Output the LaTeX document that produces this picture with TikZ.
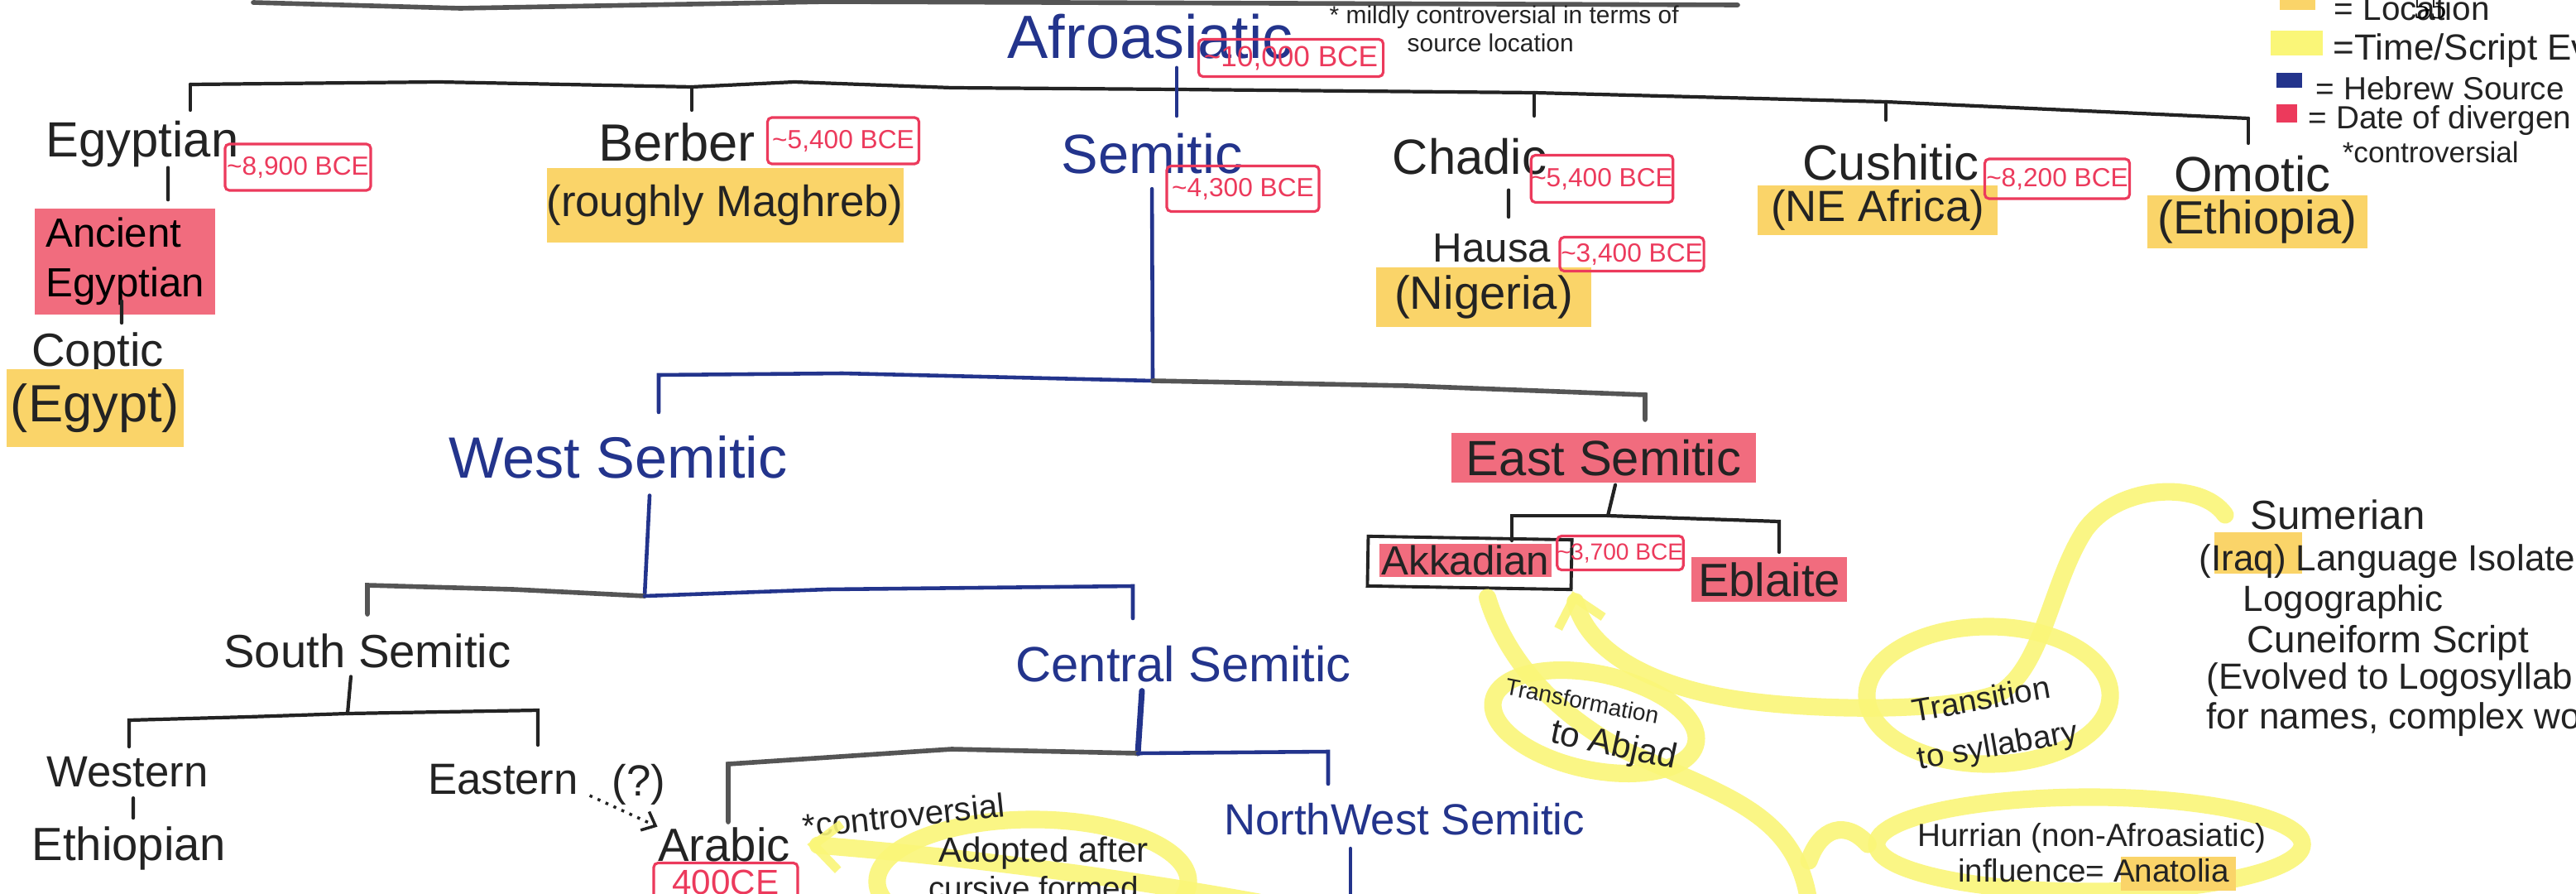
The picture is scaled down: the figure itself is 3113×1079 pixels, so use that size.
\documentclass[tikz,border=0pt]{standalone}
\usepackage{fontspec}
\setmainfont{Liberation Sans}
\newfontfamily\pagefont{Liberation Serif}
\usetikzlibrary{positioning}
\usetikzlibrary{shapes.geometric}
\usetikzlibrary{arrows.meta}
\definecolor{inkblue}{RGB}{35,52,140}
\definecolor{inkblack}{RGB}{35,35,35}
\definecolor{pencil}{RGB}{85,85,85}
\definecolor{inkred}{RGB}{236,58,92}
\definecolor{hlred}{RGB}{241,108,126}
\definecolor{hlorange}{RGB}{250,212,105}
\definecolor{hlyellow}{RGB}{250,246,120}
\tikzset{
    hand/.style={inner sep=0pt, text=inkblack, font=\fontsize{#1}{#1}\selectfont},
    blueink/.style={text=inkblue},
    datebox/.style={draw=inkred, text=inkred, line width=0.9pt, rounded corners=1.5pt,
        inner sep=0pt, minimum width=1.78cm, minimum height=0.5cm, font=\fontsize{9}{9}\selectfont},
    redmark/.style={fill=hlred, inner sep=0pt},
    placemark/.style={fill=hlorange, inner sep=0pt},
    swatch/.style={inner sep=0pt},
    bar/.style={draw=inkblack, line width=1.2pt, line cap=round},
    pencilbar/.style={draw=pencil, line width=1.6pt, line cap=round},
    bluebar/.style={draw=inkblue, line width=1.3pt, line cap=round},
    marker/.style={draw=hlyellow, line width=6pt, line cap=round, opacity=0.9},
    markloop/.style={ellipse, draw=hlyellow, line width=6pt, inner sep=0pt, opacity=0.9},
}
\tikzset{markertip/.style={-{Straight Barb[length=9pt, width=16pt, line width=3pt]}}}

\begin{document}
\begin{tikzpicture}[x=0.01cm, y=-0.01cm]
    \fill[white] (0,0) rectangle (3113,1079);
    \useasboundingbox (0,0) rectangle (3113,1079);
    \clip (0,0) rectangle (3113,1079);

    % yellow marker loops and strokes
    \node[markloop, minimum width=3.76cm, minimum height=1.5cm] (adoptloop) at (1248,1065) {};
    \node[markloop, minimum width=2.5cm, minimum height=1.16cm, rotate=-12] (abjadloop) at (1927,872) {};
    \node[markloop, minimum width=2.94cm, minimum height=1.66cm] (sylloop) at (2403,840) {};
    \node[markloop, minimum width=5.14cm, minimum height=1.14cm] (hurrloop) at (2525,1020) {};
    \coordinate (adoptsrc) at (1521,1090);
    \coordinate (abjadend) at (2186,1090);

    % top line
    \draw[pencilbar] (306,3) -- (556,10) -- (1000,2) -- (2100,6);

    % Afroasiatic
    \node[hand=21, blueink] (afro) at (1390,44) {Afroasiatic};
    \node[hand=8.5, anchor=west] (afronote) at (1606,21) {* mildly controversial in terms of};
    \node[hand=8.5, anchor=west] (afronote2) at (1700,52) {source location};
    \node[datebox, minimum width=2.23cm, minimum height=0.45cm, font=\fontsize{10}{10}\selectfont] (afrodate) at (1560,70) {\textasciitilde10,000 BCE};

    \coordinate (j-egy) at (230,102);
    \coordinate (j-ber) at (836,105);
    \coordinate (j-sem) at (1422,108);
    \coordinate (j-cha) at (1854,112);
    \coordinate (j-cus) at (2279,123);
    \coordinate (j-omo) at (2717,143);
    \draw[bar] (j-egy) -- (530,99) -- (j-ber) -- (960,99) -- (1150,106) -- (j-sem) -- (j-cha) -- (j-cus) -- (j-omo);
    \draw[bar] (j-egy) -- ++(0,31);
    \draw[bar] (j-ber) -- ++(0,28);
    \draw[bar] (j-cha) -- ++(0,28);
    \draw[bar] (j-cus) -- ++(0,22);
    \draw[bar] (j-omo) -- ++(0,30);
    \draw[bluebar] ([yshift=-0.1cm]afro.south -| j-sem) -- (j-sem) -- ++(0,32);

    % Egyptian
    \node[hand=17] (egy) at (172,174) {Egyptian};
    \node[datebox, minimum width=1.76cm, minimum height=0.56cm] (egydate) at (360,202) {\textasciitilde8,900 BCE};
    \node[redmark, align=left, minimum width=2.18cm, minimum height=1.28cm, font=\fontsize{14}{17}\selectfont] (ancient) at (151,316) {Ancient\\Egyptian};
    \draw[bar, shorten >=0.1cm] ([xshift=0.31cm]egy.south) -- ([xshift=0.52cm]ancient.north);
    \node[hand=16] (coptic) at (118,428) {Coptic};
    \draw[bar] ([xshift=-0.04cm, yshift=0.17cm]ancient.south) -- ([xshift=0.29cm, yshift=0.11cm]coptic.north);
    \node[placemark, hand=18, minimum width=2.14cm, minimum height=0.93cm] (egypt) at (115,493) {(Egypt)};

    % Berber
    \node[hand=18] (berber) at (818,172) {Berber};
    \node[datebox, minimum width=1.83cm, minimum height=0.56cm] (berdate) at (1019,170) {\textasciitilde5,400 BCE};
    \node[placemark, hand=15, minimum width=4.28cm, minimum height=0.9cm] (maghreb) at (876,248) {(roughly Maghreb)};

    % Semitic
    \node[hand=19, blueink] (semitic) at (1392,186) {Semitic};
    \node[datebox, minimum width=1.84cm, minimum height=0.55cm] (semdate) at (1502,228) {\textasciitilde4,300 BCE};

    % Chadic
    \node[hand=17] (chadic) at (1776,189) {Chadic};
    \node[datebox, minimum width=1.7cm, minimum height=0.57cm] (chadate) at (1936,216) {\textasciitilde5,400 BCE};
    \node[hand=14] (hausa) at (1803,300) {Hausa};
    \draw[bar, shorten <=0.18cm, shorten >=0.2cm] ([xshift=0.47cm]chadic.south) -- ([xshift=0.2cm]hausa.north);
    \node[placemark, hand=16, minimum width=2.59cm, minimum height=0.71cm] (nigeria) at (1793,359) {(Nigeria)};
    \node[datebox, minimum width=1.74cm, minimum height=0.41cm] (hausadate) at (1972,307) {\textasciitilde3,400 BCE};

    % Cushitic
    \node[hand=17] (cushitic) at (2285,196) {Cushitic};
    \node[placemark, hand=15, minimum width=2.9cm, minimum height=0.6cm] (neafrica) at (2269,254) {(NE Africa)};
    \node[datebox, minimum width=1.75cm, minimum height=0.48cm] (cushdate) at (2486,216) {\textasciitilde8,200 BCE};

    % Omotic
    \node[hand=17] (omotic) at (2722,210) {Omotic};
    \node[placemark, hand=16, minimum width=2.65cm, minimum height=0.64cm] (ethiopia) at (2728,268) {(Ethiopia)};
    \node[hand=10, anchor=west] (omonote) at (2830,184) {*controversial};

    % legend
    \node[swatch, fill=hlorange, minimum width=0.43cm, minimum height=0.17cm] (swloc) at (2776,3) {};
    \node[hand=11.5, right=0.22cm of swloc, yshift=-0.07cm] (legloc) {= Location};
    \node[font=\pagefont\fontsize{11}{11}\selectfont, inner sep=0pt] (pagenum) at (2937,10) {55};
    \node[swatch, fill=hlyellow, minimum width=0.63cm, minimum height=0.29cm] (swtime) at (2775,52) {};
    \node[hand=12.5, right=0.12cm of swtime, yshift=-0.09cm] (legtime) {=Time/Script Ev};
    \node[swatch, fill=inkblue, minimum width=0.31cm, minimum height=0.17cm] (swheb) at (2766,97) {};
    \node[hand=11, right=0.16cm of swheb, yshift=-0.1cm] (legheb) {= Hebrew Source};
    \node[swatch, fill=inkred, minimum width=0.25cm, minimum height=0.22cm] (swdate) at (2763,137) {};
    \node[hand=11, right=0.13cm of swdate, yshift=-0.08cm] (legdate) {= Date of divergen};

    % Semitic split
    \coordinate (j-semi) at (1393,460);
    \coordinate (j-west) at (796,453);
    \coordinate (j-east) at (1988,477);
    \draw[bluebar, shorten <=0.17cm] (semitic.south) -- (j-semi);
    \draw[bluebar] (j-semi) -- (1018,451) -- (j-west) -- ++(0,45);
    \draw[pencilbar] (j-semi) -- (1700,466) -- (j-east) -- ++(0,30);

    \node[hand=20, blueink] (westsem) at (747,552) {West Semitic};
    \node[redmark, hand=17, minimum width=3.67cm, minimum height=0.6cm] (eastsem) at (1938,553) {East Semitic};

    % West Semitic split
    \coordinate (j-ws) at (779,720);
    \draw[bluebar] ([xshift=0.38cm, yshift=-0.2cm]westsem.south) -- (j-ws);
    \draw[pencilbar] (j-ws) -- (620,712) -- (444,707) -- ++(0,35);
    \draw[bluebar] (j-ws) -- (1000,712) -- (1369,708) -- ++(0,39);

    \node[hand=16] (southsem) at (444,786) {South Semitic};
    \node[hand=17, blueink] (centralsem) at (1430,802) {Central Semitic};

    % South Semitic
    \coordinate (j-ss) at (420,862);
    \draw[bar] ([xshift=-0.2cm, yshift=-0.1cm]southsem.south) -- (j-ss);
    \draw[bar] (j-ss) -- (300,866) -- (156,870) -- ++(0,32);
    \draw[bar] (j-ss) -- (650,858) -- ++(0,42);
    \node[hand=15] (western) at (154,933) {Western};
    \node[hand=16] (ethiopian) at (156,1025) {Ethiopian};
    \draw[bar] ([xshift=0.07cm, yshift=-0.12cm]western.south) -- ([xshift=0.05cm, yshift=0.1cm]ethiopian.north);
    \node[hand=15] (eastern) at (608,942) {Eastern};
    \node[hand=15] (query) at (772,948) {(?)};

    % Central Semitic
    \coordinate (j-cs) at (1375,910);
    \draw[bluebar, line width=2pt] ([xshift=-0.5cm, yshift=-0.1cm]centralsem.south) -- (j-cs);
    \draw[pencilbar] (j-cs) -- (1150,905) -- (880,923) -- ++(0,70);
    \draw[bluebar] (j-cs) -- (1605,908) -- ++(0,39);

    \node[hand=16] (arabic) at (875,1020) {Arabic};
    \draw[inkblack, dotted, line width=1pt, -{Straight Barb[length=4pt, width=7pt]}] ([xshift=0.13cm]eastern.south east) -- (arabic.north west);
    \node[hand=11.5, rotate=6] (arabnote) at (1092,985) {*controversial};
    \node[datebox, minimum width=1.74cm, minimum height=0.47cm, font=\fontsize{12}{12}\selectfont] (arabdate) at (877,1066) {400CE};
    \node[hand=15, blueink] (nwsem) at (1697,990) {NorthWest Semitic};
    \draw[bluebar] ([xshift=-0.65cm, yshift=-0.15cm]nwsem.south) -- ++(0,70);

    % East Semitic
    \coordinate (j-es) at (1943,623);
    \draw[bar] ([xshift=0.14cm, yshift=-0.02cm]eastsem.south) -- (j-es);
    \draw[bar] (j-es) -- (1827,623) -- ++(0,30);
    \draw[bar] (j-es) -- (2150,630) -- ++(0,37);
    \node[redmark, hand=14, minimum width=2.07cm, minimum height=0.4cm] (akkadian) at (1771,677) {Akkadian};
    \node[draw=inkblack, line width=1.1pt, minimum width=2.46cm, minimum height=0.6cm, inner sep=0pt, rotate=-1] (akkbox) at (1776,680) {};
    \node[datebox, minimum width=1.49cm, minimum height=0.41cm, font=\fontsize{8}{8}\selectfont] (akkdate) at (1958,668) {\textasciitilde3,700 BCE};
    \node[redmark, hand=16, minimum width=1.88cm, minimum height=0.54cm] (eblaite) at (2138,700) {Eblaite};

    % Sumerian
    \node[hand=14, anchor=west] (sumerian) at (2719,622) {Sumerian};
    \node[placemark, minimum width=1.06cm, minimum height=0.5cm] (iraqmark) at (2729,668) {};
    \node[hand=12.5, anchor=west] (isolate) at (2657,678) {(Iraq) Language Isolate,};
    \node[hand=12.5, anchor=west] (logo) at (2710,727) {Logographic};
    \node[hand=13, anchor=west] (cuneiform) at (2715,777) {Cuneiform Script};
    \node[hand=12.5, anchor=west] (evolved) at (2666,821) {(Evolved to Logosyllab};
    \node[hand=12.5, anchor=west] (complex) at (2666,869) {for names, complex word};

    % marker strokes
    \draw[marker, markertip] ([xshift=-0.3cm]sumerian.west) .. controls (2660,580) and (2560,585) .. (2520,640)
        .. controls (2480,700) and (2470,800) .. (2420,835)
        .. controls (2370,860) and (2200,860) .. (2100,845)
        .. controls (2000,830) and (1920,790) .. (akkbox.south east);
    \draw[marker] ([xshift=0.22cm, yshift=-0.1cm]akkbox.south) .. controls (1815,780) and (1860,850) .. (1960,905)
        .. controls (2080,960) and (2170,980) .. (abjadend);
    \draw[marker] (hurrloop.west) .. controls (2230,990) and (2200,1000) .. (2186,1040);
    \draw[marker, markertip] (adoptsrc) .. controls (1300,1050) and (1100,1030) .. ([xshift=0.2cm]arabic.east);

    % loop texts
    \node[hand=12] (adopted) at (1261,1031) {Adopted after};
    \node[hand=11] (cursive) at (1249,1073) {cursive formed};
    \node[hand=8, rotate=-11] (transform) at (1912,847) {Transformation};
    \node[hand=12, rotate=-12] (toabjad) at (1950,902) {to Abjad};
    \node[hand=11, rotate=10] (transition) at (2394,844) {Transition};
    \node[hand=11, rotate=10] (syllabary) at (2414,903) {to syllabary};
    \node[placemark, minimum width=1.39cm, minimum height=0.41cm] (anatmark) at (2632,1055) {};
    \node[hand=11] (hurrian) at (2528,1012) {Hurrian (non-Afroasiatic)};
    \node[hand=11] (influence) at (2530,1052) {influence= Anatolia};
\end{tikzpicture}
\end{document}
